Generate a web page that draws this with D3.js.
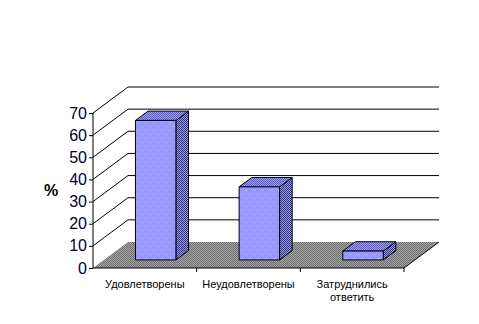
<!DOCTYPE html>
<html>
<head>
<meta charset="utf-8">
<script src="https://cdn.jsdelivr.net/npm/d3@7"></script>
<style>
  body { margin: 0; background: #fff; }
  text { font-family: Arial, "Liberation Sans", sans-serif; }
</style>
</head>
<body>
<script>
// chart data
const categories = ["Удовлетворены", "Неудовлетворены", "Затруднились ответить"];
const values = [63, 33, 4];
const yTicks = [0, 10, 20, 30, 40, 50, 60, 70];
const yLabel = "%";

let w = 479, h = 324;
let svg = d3.select("body").append("svg").attr("width", w).attr("height", h);

// oblique 3d depth vector and where the bars sit in that depth
const depth = { dx: 35, dy: -26 };
const barFront = 0.31, barBack = 0.67;

const x = d3.scaleBand()
    .domain(categories)
    .range([93, 404])
    .paddingInner(0)
    .paddingOuter(0);
const barW = x.bandwidth() * 0.39;

const y = d3.scaleLinear()
    .domain([0, 70])
    .range([268, 113]);

// fill patterns (excel-like dithering)
const defs = svg.append("defs");
function checker(id, a, b) {
    let p = defs.append("pattern").attr("id", id)
        .attr("width", 2).attr("height", 2).attr("patternUnits", "userSpaceOnUse");
    p.append("rect").attr("width", 2).attr("height", 2).attr("fill", a);
    p.append("rect").attr("width", 1).attr("height", 1).attr("fill", b);
    p.append("rect").attr("x", 1).attr("y", 1).attr("width", 1).attr("height", 1).attr("fill", b);
}
checker("floorPat", "#a4a4a4", "#707070");
checker("sidePat", "#9999ff", "#333366");
checker("topPat", "#9999ff", "#6060b8");

let dots = defs.append("pattern").attr("id", "frontPat")
    .attr("width", 8).attr("height", 8).attr("patternUnits", "userSpaceOnUse");
dots.append("rect").attr("width", 8).attr("height", 8).attr("fill", "#9999ff");
dots.append("rect").attr("x", 2).attr("y", 2).attr("width", 1).attr("height", 1).attr("fill", "#c8c8ff");
dots.append("rect").attr("x", 6).attr("y", 6).attr("width", 1).attr("height", 1).attr("fill", "#c8c8ff");

const x0 = x.range()[0], x1 = x.range()[1];
const pt = (px, py, d) => [px + depth.dx * d, py + depth.dy * d];
const poly = pts => pts.map(p => p.join(",")).join(" ");

// floor
svg.append("polygon")
    .attr("points", poly([pt(x0, y(0), 0), pt(x1, y(0), 0), pt(x1, y(0), 1), pt(x0, y(0), 1)]))
    .attr("fill", "url(#floorPat)");
svg.append("line")
    .attr("x1", x1).attr("y1", y(0))
    .attr("x2", x1 + depth.dx).attr("y2", y(0) + depth.dy)
    .attr("stroke", "#000");

// gridlines on back wall + side wall diagonals
const grid = yTicks.filter(t => t > 0);
svg.selectAll(".grid")
    .data(grid)
    .enter().append("line")
    .attr("class", "grid")
    .attr("x1", x0 + depth.dx).attr("x2", x1 + depth.dx)
    .attr("y1", d => y(d) + depth.dy).attr("y2", d => y(d) + depth.dy)
    .attr("stroke", "#000");
svg.selectAll(".diag")
    .data(grid)
    .enter().append("line")
    .attr("class", "diag")
    .attr("x1", x0).attr("y1", d => y(d))
    .attr("x2", x0 + depth.dx).attr("y2", d => y(d) + depth.dy)
    .attr("stroke", "#000");

// bars
const bars = svg.selectAll(".bar")
    .data(categories.map((c, i) => ({ cat: c, v: values[i] })))
    .enter().append("g")
    .attr("class", "bar");

bars.each(function (d) {
    let g = d3.select(this);
    let bx = x(d.cat) + (x.bandwidth() - barW) / 2;
    let fl = pt(bx, y(d.v), barFront), fr = pt(bx + barW, y(d.v), barFront);
    let bl = pt(bx, y(d.v), barBack), br = pt(bx + barW, y(d.v), barBack);
    let fb = pt(bx + barW, y(0), barFront), bb = pt(bx + barW, y(0), barBack);
    let lb = pt(bx, y(0), barFront);
    g.append("polygon").attr("points", poly([fr, br, bb, fb]))
        .attr("fill", "url(#sidePat)").attr("stroke", "#000").attr("stroke-width", 1);
    g.append("polygon").attr("points", poly([fl, bl, br, fr]))
        .attr("fill", "url(#topPat)").attr("stroke", "#000").attr("stroke-width", 1);
    g.append("polygon").attr("points", poly([fl, fr, fb, lb]))
        .attr("fill", "url(#frontPat)").attr("stroke", "#000").attr("stroke-width", 1);
});

// axes
const yAxis = svg.append("g")
    .attr("transform", `translate(${x0},0)`)
    .call(d3.axisLeft(y).tickValues(yTicks).tickSize(4).tickPadding(2));
yAxis.select(".domain").attr("d", `M-0,${y(0)}V${y(70)}`);
yAxis.selectAll("text")
    .attr("font-size", 16)
    .attr("font-family", "Arial, 'Liberation Sans', sans-serif")
    .attr("fill", "#00002a");

const xAxis = svg.append("g")
    .attr("transform", `translate(0,${y(0)})`)
    .call(d3.axisBottom(x).tickSize(0).tickPadding(12));
xAxis.select(".domain").attr("d", `M${x0},0H${x1}`);
xAxis.selectAll(".tick line").remove();

// boundary ticks between categories
xAxis.selectAll(".btick")
    .data(categories)
    .enter().append("line")
    .attr("class", "btick")
    .attr("x1", d => x(d) + x.bandwidth()).attr("x2", d => x(d) + x.bandwidth())
    .attr("y1", 0).attr("y2", 4)
    .attr("stroke", "#000");

xAxis.selectAll(".tick text")
    .attr("font-size", 11)
    .attr("font-family", "Arial, 'Liberation Sans', sans-serif")
    .attr("fill", "#000")
    .each(function () {
        // wrap long labels into the band width
        let t = d3.select(this);
        let words = t.text().split(" ");
        t.text(null);
        let line = [], lines = [];
        let tmp = t.append("tspan");
        words.forEach(wd => {
            line.push(wd);
            tmp.text(line.join(" "));
            if (tmp.node().getComputedTextLength() > x.bandwidth() - 8 && line.length > 1) {
                line.pop();
                lines.push(line.join(" "));
                line = [wd];
            }
        });
        lines.push(line.join(" "));
        tmp.remove();
        lines.forEach((l, i) => {
            t.append("tspan").attr("x", 0).attr("dy", i === 0 ? "0.71em" : "1.2em").text(l);
        });
    });

// y title
svg.append("text")
    .attr("x", 51).attr("y", 196)
    .attr("text-anchor", "middle")
    .attr("font-size", 16)
    .attr("font-weight", "bold")
    .attr("fill", "#000")
    .text(yLabel);
</script>
</body>
</html>
